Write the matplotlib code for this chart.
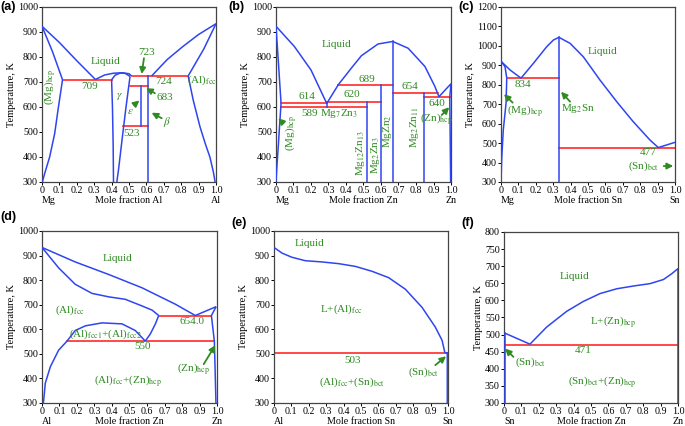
import numpy as np
import matplotlib.pyplot as plt

plt.rcParams['font.family'] = 'Liberation Serif'
plt.rcParams['mathtext.fontset'] = 'stix'
plt.rcParams['font.size'] = 7

BLUE = '#2f45f0'
RED = '#ff2a2a'
GREEN = '#2f8a22'

# ---- (a) Mg-Al ----
a_mg_liquidus = [(0.0, 923), (0.10, 858), (0.20, 785), (0.307, 710)]
a_mg_solidus = [(0.0, 923), (0.06, 822), (0.118, 709)]
a_mg_solvus = [(0.118, 709), (0.092, 588), (0.073, 494), (0.044, 400), (0.015, 333), (0.002, 300)]
a_gamma_liquidus = [(0.307, 710), (0.36, 728), (0.41, 735), (0.46, 737), (0.50, 733), (0.515, 724)]
a_gamma_solidus = [(0.40, 709), (0.42, 727), (0.45, 736), (0.48, 734), (0.506, 722)]
a_gamma_left = [(0.40, 709), (0.405, 600), (0.409, 450), (0.411, 300)]
a_gamma_right = [(0.506, 722), (0.483, 600), (0.462, 480), (0.44, 350), (0.43, 300)]
a_al_liquidus = [(0.63, 724), (0.72, 790), (0.81, 842), (0.90, 890), (1.0, 933)]
a_al_solidus = [(0.84, 724), (0.93, 832), (1.0, 933)]
a_al_solvus = [(0.84, 724), (0.87, 625), (0.908, 521), (0.94, 450), (0.965, 400), (0.985, 340), (0.995, 300)]
a_compounds = [(0.569, 523, 683), (0.611, 300, 724)]
a_isotherms = [(709, 0.118, 0.40), (723, 0.515, 0.611), (724, 0.611, 0.84),
               (683, 0.506, 0.611), (523, 0.467, 0.611)]
a_labels = [('Liquid', 0.367, 782, 0), (r'(Mg)$_{\rm hcp}$', 0.046, 679, 90),
            ('709', 0.272, 681, 0), ('723', 0.602, 817, 0), ('724', 0.697, 701, 0),
            (r'(Al)$_{\rm fcc}$', 0.918, 708, 0), ('683', 0.707, 639, 0),
            (r'$\gamma$', 0.444, 641, 0), (r'$\varepsilon$', 0.51, 581, 0),
            (r'$\beta$', 0.72, 541, 0), ('523', 0.515, 492, 0)]
a_arrows = [((0.586, 795), (0.573, 732)), ((0.649, 655), (0.598, 675)),
            ((0.529, 608), (0.560, 626)), ((0.688, 555), (0.630, 577))]

# ---- (b) Mg-Zn ----
b_mg_liquidus = [(0.0, 923), (0.105, 842), (0.2, 748), (0.29, 614)]
b_mg_solidus = [(0.0, 923), (0.015, 765), (0.029, 614)]
b_mg_solvus = [(0.029, 614), (0.02, 520), (0.013, 441), (0.005, 360), (0.0, 300)]
b_liquidus = [(0.29, 614), (0.356, 689), (0.43, 755), (0.488, 805), (0.583, 852), (0.667, 862),
              (0.755, 835), (0.851, 762), (0.908, 682), (0.931, 641), (1.0, 693)]
b_zn_side = [(1.0, 693), (0.993, 640), (0.998, 300)]
b_compounds = [(0.29, 598, 621), (0.518, 300, 620), (0.60, 300, 689), (0.667, 300, 862), (0.846, 300, 654)]
b_isotherms = [(614, 0.029, 0.29), (598, 0.029, 0.518), (620, 0.29, 0.60),
               (689, 0.356, 0.667), (654, 0.667, 0.924), (640, 0.846, 1.0)]
b_labels = [('Liquid', 0.344, 849, 0), ('614', 0.175, 641, 0), ('620', 0.433, 648, 0),
            ('689', 0.518, 711, 0), ('654', 0.766, 681, 0), ('640', 0.918, 615, 0),
            ('589', 0.194, 572, 0), (r'Mg$_7$Zn$_3$', 0.36, 572, 0),
            (r'(Mg)$_{\rm hcp}$', 0.084, 495, 90), (r'Mg$_{12}$Zn$_{13}$', 0.484, 415, 90),
            (r'Mg$_2$Zn$_3$', 0.568, 408, 90), (r'MgZn$_2$', 0.636, 505, 90),
            (r'Mg$_2$Zn$_{11}$', 0.79, 519, 90), (r'(Zn)$_{\rm hcp}$', 0.918, 551, 0)]
b_arrows = [((0.042, 535), (0.013, 555)), ((0.947, 568), (0.99, 599))]

# ---- (c) Mg-Sn ----
c_mg_liquidus = [(0.0, 921), (0.052, 876), (0.115, 834)]
c_mg_solidus = [(0.0, 921), (0.023, 893), (0.033, 834)]
c_mg_solvus = [(0.033, 834), (0.029, 705), (0.013, 567), (0.004, 420), (0.0, 300)]
c_liquidus = [(0.115, 834), (0.186, 910), (0.263, 996), (0.301, 1030), (0.333, 1044), (0.397, 1013),
              (0.473, 944), (0.569, 824), (0.665, 713), (0.76, 610), (0.856, 516), (0.904, 477), (1.0, 504)]
c_compounds = [(0.333, 300, 1044)]
c_isotherms = [(834, 0.033, 0.333), (477, 0.333, 1.0)]
c_labels = [('Liquid', 0.584, 970, 0), ('834', 0.128, 799, 0), (r'(Mg)$_{\rm hcp}$', 0.138, 667, 0),
            (r'Mg$_2$Sn', 0.444, 679, 0), ('477', 0.847, 451, 0), (r'(Sn)$_{\rm bct}$', 0.82, 379, 0)]
c_arrows = [((0.067, 708), (0.017, 752)), ((0.397, 713), (0.345, 764)), ((0.935, 382), (0.99, 382))]

# ---- (d) Al-Zn ----
d_liquidus = [(0.0, 933), (0.19, 874), (0.381, 823), (0.571, 769), (0.762, 702), (0.876, 656), (0.995, 692)]
d_al_solidus = [(0.0, 933), (0.095, 850), (0.19, 783), (0.286, 746), (0.381, 732), (0.476, 722),
                (0.571, 695), (0.629, 678), (0.667, 656)]
d_al_solvus = [(0.667, 656), (0.648, 622), (0.619, 581), (0.59, 552)]
d_gap = [(0.59, 552), (0.533, 595), (0.457, 622), (0.343, 626), (0.248, 614), (0.19, 595), (0.143, 552),
         (0.095, 515), (0.048, 448), (0.019, 381), (0.01, 314), (0.008, 300)]
d_zn_side = [(0.995, 692), (0.968, 656), (0.985, 550), (0.994, 300)]
d_isotherms = [(655, 0.667, 0.968), (551, 0.143, 0.985)]
d_labels = [('Liquid', 0.434, 888, 0), (r'(Al)$_{\rm fcc}$', 0.162, 678, 0), ('654.0', 0.857, 633, 0),
            (r'(Al)$_{\rm fcc1}$+(Al)$_{\rm fcc2}$', 0.362, 579, 0), ('550', 0.575, 528, 0),
            (r'(Zn)$_{\rm hcp}$', 0.867, 437, 0), (r'(Al)$_{\rm fcc}$+(Zn)$_{\rm hcp}$', 0.491, 391, 0)]
d_arrows = [((0.924, 458), (0.99, 535))]

# ---- (e) Al-Sn ----
e_liquidus = [(0.0, 933), (0.046, 910), (0.103, 893), (0.18, 879), (0.276, 874), (0.372, 867),
              (0.467, 856), (0.563, 836), (0.659, 810), (0.755, 763), (0.851, 689), (0.927, 609),
              (0.966, 555), (0.981, 508), (0.985, 503)]
e_sn_side = [(0.985, 503), (0.996, 505), (0.996, 300)]
e_isotherms = [(503, 0.0, 1.0)]
e_labels = [('Liquid', 0.203, 950, 0), (r'L+(Al)$_{\rm fcc}$', 0.391, 682, 0), ('503', 0.452, 474, 0),
            (r'(Al)$_{\rm fcc}$+(Sn)$_{\rm bct}$', 0.448, 383, 0), (r'(Sn)$_{\rm bct}$', 0.86, 427, 0)]
e_arrows = [((0.927, 454), (0.989, 490))]

# ---- (f) Sn-Zn ----
f_sn_liquidus = [(0.006, 504), (0.149, 472)]
f_zn_liquidus = [(0.149, 472), (0.245, 522), (0.36, 568), (0.456, 597), (0.552, 620), (0.648, 634),
                 (0.743, 642), (0.839, 649), (0.916, 661), (0.964, 678), (1.0, 693)]
f_sides = [(0.006, 300, 504), (0.998, 300, 693)]
f_isotherms = [(471, 0.0, 1.0)]
f_labels = [('Liquid', 0.408, 671, 0), (r'L+(Zn)$_{\rm hcp}$', 0.628, 538, 0), ('471', 0.456, 454, 0),
            (r'(Sn)$_{\rm bct}$', 0.153, 418, 0), (r'(Sn)$_{\rm bct}$+(Zn)$_{\rm hcp}$', 0.563, 360, 0)]
f_arrows = [((0.054, 435), (0.006, 459))]

xticks = np.round(np.arange(0, 1.01, 0.1), 1)
xticklabels = ['0'] + ['%.1f' % v for v in xticks[1:]]


def curve(ax, pts, color=BLUE, lw=1.1):
    xs, ts = zip(*pts)
    ax.plot(xs, ts, color=color, lw=lw, solid_capstyle='butt', zorder=3)


def draw_panel(ax, left, right, elem, ymax, ystep, curves, verticals, isotherms, labels, arrows):
    for c in curves:
        curve(ax, c)
    for x, t0, t1 in verticals:
        ax.plot([x, x], [t0, t1], color=BLUE, lw=1.1, zorder=3)
    for t, x0, x1 in isotherms:
        ax.plot([x0, x1], [t, t], color=RED, lw=1.2, zorder=2)
    for txt, x, y, rot in labels:
        ax.text(x, y, txt, color=GREEN, fontsize=8, ha='center', va='center', rotation=rot, zorder=4)
    for tail, head in arrows:
        ax.annotate('', xy=head, xytext=tail,
                    arrowprops=dict(arrowstyle='-|>', color=GREEN, lw=1.3, mutation_scale=9,
                                    shrinkA=0, shrinkB=0), zorder=4)
    ax.set_xlim(0, 1)
    ax.set_ylim(300, ymax)
    ax.set_xticks(xticks)
    ax.set_xticklabels(xticklabels)
    ax.set_yticks(np.arange(300, ymax + 1, ystep))
    ax.tick_params(direction='out', length=2, width=0.7, labelsize=7.2, pad=1)
    for s in ax.spines.values():
        s.set_color('#444444')
        s.set_linewidth(0.9)
    ax.set_ylabel('Temperature, K', fontsize=7.5, labelpad=1)
    # element names and axis title on one line under the tick labels
    for txt, xf, ha in [(left, 0.0, 'left'), ('Mole fraction ' + elem, 0.5, 'center'), (right, 1.0, 'center')]:
        ax.annotate(txt, xy=(xf, 0), xycoords='axes fraction', xytext=(0, -13),
                    textcoords='offset points', ha=ha, va='center', fontsize=7.2)


fig = plt.figure(figsize=(6.85, 4.26), dpi=100)
ax_a = fig.add_axes([0.0613, 0.5728, 0.2540, 0.4108])
ax_b = fig.add_axes([0.4029, 0.5728, 0.2555, 0.4108])
ax_c = fig.add_axes([0.7314, 0.5728, 0.2540, 0.4108])
ax_d = fig.add_axes([0.0613, 0.0540, 0.2555, 0.4038])
ax_e = fig.add_axes([0.4000, 0.0540, 0.2540, 0.4038])
ax_f = fig.add_axes([0.7358, 0.0540, 0.2540, 0.4014])

draw_panel(ax_a, 'Mg', 'Al', 'Al', 1000, 100,
           [a_mg_liquidus, a_mg_solidus, a_mg_solvus, a_gamma_liquidus, a_gamma_solidus,
            a_gamma_left, a_gamma_right, a_al_liquidus, a_al_solidus, a_al_solvus],
           a_compounds, a_isotherms, a_labels, a_arrows)
draw_panel(ax_b, 'Mg', 'Zn', 'Zn', 1000, 100,
           [b_mg_liquidus, b_mg_solidus, b_mg_solvus, b_liquidus, b_zn_side],
           b_compounds, b_isotherms, b_labels, b_arrows)
draw_panel(ax_c, 'Mg', 'Sn', 'Sn', 1200, 100,
           [c_mg_liquidus, c_mg_solidus, c_mg_solvus, c_liquidus],
           c_compounds, c_isotherms, c_labels, c_arrows)
draw_panel(ax_d, 'Al', 'Zn', 'Zn', 1000, 100,
           [d_liquidus, d_al_solidus, d_al_solvus, d_gap, d_zn_side],
           [], d_isotherms, d_labels, d_arrows)
draw_panel(ax_e, 'Al', 'Sn', 'Sn', 1000, 100,
           [e_liquidus, e_sn_side], [], e_isotherms, e_labels, e_arrows)
draw_panel(ax_f, 'Sn', 'Zn', 'Zn', 800, 50,
           [f_sn_liquidus, f_zn_liquidus], f_sides, f_isotherms, f_labels, f_arrows)

tags = [('(a)', 0, 7), ('(b)', 228, 7), ('(c)', 458, 7), ('(d)', 0, 217), ('(e)', 231, 223), ('(f)', 461, 223)]
for t, px, py in tags:
    fig.text(px / 685, 1 - py / 426, t, family='Liberation Sans', fontweight='bold', fontsize=9,
             ha='left', va='center')

fig.savefig('out.png', dpi=100)
